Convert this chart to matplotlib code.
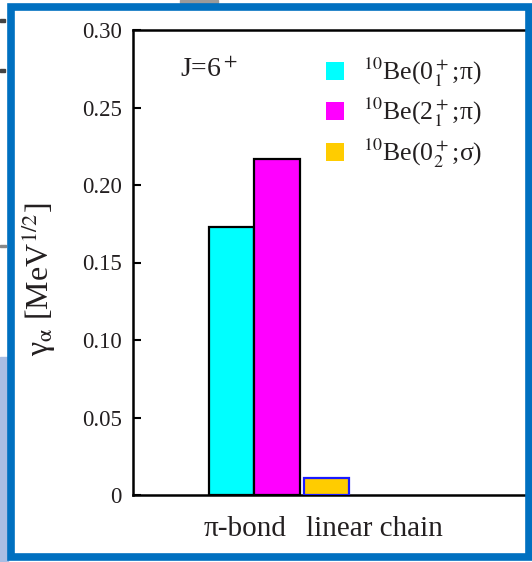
import matplotlib.pyplot as plt
from matplotlib.patches import Rectangle, Patch

plt.rcParams['font.family'] = 'Liberation Serif'
plt.rcParams['mathtext.fontset'] = 'stix'

# data
states = [r'$^{10}$Be(0$^+_1$;π)', r'$^{10}$Be(2$^+_1$;π)', r'$^{10}$Be(0$^+_2$;σ)']
gamma = [0.173, 0.217, 0.011]
bar_x = [2.165, 3.165, 4.25]
colors = ['#00ffff', '#ff00ff', '#ffcc00']
edges = ['black', 'black', '#1a1aff']
groups = ['π-bond', 'linear chain']
group_x = [2.46, 5.3]
yticks = [0, 0.05, 0.10, 0.15, 0.20, 0.25, 0.30]
yticklabels = ['0', '0.05', '0.10', '0.15', '0.20', '0.25', '0.30']

W, H = 532, 562
fig = plt.figure(figsize=(W / 100, H / 100), dpi=100)

def fr(x0, y0, x1, y1):
    # pixel box (top-left origin) -> figure fraction
    return (x0 / W, 1 - y1 / H), (x1 - x0) / W, (y1 - y0) / H

# background bits around the slide frame
for box, c in [((0, 357, 8, 562), '#a9bde3'), ((180, 0, 218, 3), '#9a9a9a'),
               ((0, 19, 5, 22), '#444444'), ((0, 69, 5, 72), '#444444'),
               ((0, 245, 6, 247), '#888888')]:
    xy, w, h = fr(*box)
    fig.patches.append(Rectangle(xy, w, h, transform=fig.transFigure, color=c, zorder=0))
xy, w, h = fr(10.5, 6.5, 528.5, 556.5)
fig.patches.append(Rectangle(xy, w, h, transform=fig.transFigure, fill=False,
                             edgecolor='#0070c0', linewidth=5.5, zorder=5))

ax = fig.add_axes([133 / W, 1 - 495 / H, (527 - 133) / W, (495 - 30) / H])
ax.bar(bar_x, gamma, width=1.0, color=colors, edgecolor=edges, linewidth=1.6, zorder=3)

ax.set_xlim(0, 8.66)
ax.set_ylim(0, 0.30)
ax.set_yticks(yticks)
ax.set_yticklabels(yticklabels, fontsize=16.5, color='#231f20')
ax.tick_params(axis='y', direction='in', length=6, width=1.5, pad=8)
ax.set_xticks(group_x)
ax.set_xticklabels(groups, fontsize=21, color='#231f20')
ax.tick_params(axis='x', length=0, pad=15)
ax.spines['right'].set_visible(False)
for s in ['left', 'bottom', 'top']:
    ax.spines[s].set_linewidth(1.8)

ax.set_ylabel(r'γ$_\mathrm{α}$ [MeV$^{\mathit{1/2}}$]', fontsize=23, color='#231f20')
ax.yaxis.set_label_coords(-0.19, 0.465)

ax.text(0.12, 0.9, r'J=6$^+$', transform=ax.transAxes, fontsize=20, color='#231f20')

handles = [Patch(facecolor=c, edgecolor='none') for c in colors]
ax.legend(handles, states, loc='upper left', bbox_to_anchor=(0.43, 0.995), frameon=False,
          fontsize=18.5, handlelength=0.7, handleheight=0.7, handletextpad=0.75,
          labelspacing=0.28, labelcolor='#231f20')

fig.savefig('out.png', dpi=100)
